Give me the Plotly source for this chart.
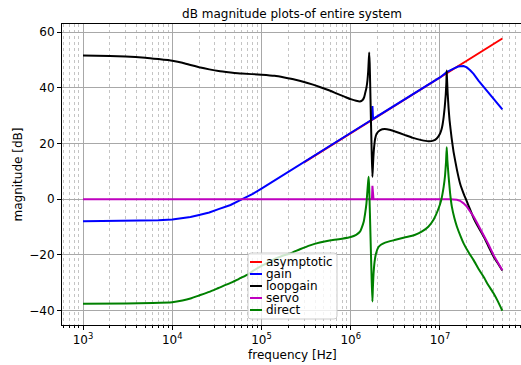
import plotly.graph_objects as go

# ---------------- data ----------------
asym_f = [3e5, 5e7]
asym_db = [13.2, 57.7]

gain_f = [1e3, 3e3, 5e3, 7e3, 1e4, 1.3e4, 1.6e4, 2e4, 2.6e4, 3.3e4, 4.5e4, 6e4, 8e4, 1e5, 1.5e5,
          2e5, 3e5, 1e6, 1.72e6, 1.75e6, 1.78e6,
          1e7, 1.19e7, 1.42e7, 1.6e7, 1.84e7, 2e7, 2.18e7, 2.38e7, 2.7e7, 3.08e7, 3.5e7, 4e7, 4.5e7, 5e7]
gain_db = [-7.9, -7.85, -7.8, -7.6, -7.3, -6.9, -6.4, -5.7, -4.8, -3.6, -2.1, -0.1, 1.9, 3.8, 7.3,
           9.8, 13.3, 23.8, 28.5, 33.4, 28.8,
           43.7, 45.6, 46.9, 47.6, 47.8, 47.3, 46.3, 45.0, 42.6, 40.3, 38.0, 35.9, 34.0, 32.2]

loop_f = [1e3, 2e3, 3e3, 5e3, 7e3, 1e4, 1.3e4, 1.6e4, 2e4, 2.6e4, 3.3e4, 4.5e4, 6e4, 1e5,
          1.4e5, 1.8e5, 2.4e5, 3e5, 3.7e5, 4.5e5, 5.6e5, 7e5, 8.5e5, 1e6, 1.15e6, 1.27e6,
          1.35e6, 1.41e6, 1.45e6, 1.5e6, 1.54e6, 1.57e6, 1.59e6, 1.61e6, 1.63e6, 1.65e6,
          1.68e6, 1.72e6, 1.75e6, 1.78e6, 1.82e6, 1.88e6, 1.95e6, 2.14e6, 2.4e6, 2.8e6,
          3.2e6, 4e6, 5e6, 6.2e6, 7.4e6, 8.4e6, 9.2e6, 1e7, 1.04e7, 1.07e7, 1.1e7, 1.13e7,
          1.16e7, 1.18e7, 1.19e7, 1.2e7, 1.22e7, 1.25e7, 1.28e7, 1.35e7, 1.42e7, 1.55e7,
          1.68e7, 1.84e7, 2e7, 2.18e7, 2.38e7, 2.6e7, 3.1e7, 3.5e7, 4e7, 4.5e7, 5e7]
loop_db = [51.6, 51.4, 51.2, 50.8, 50.3, 49.7, 49.0, 48.2, 47.4, 46.6, 46.0, 45.5, 45.1, 44.7,
           44.3, 43.7, 42.9, 42.1, 41.2, 40.3, 39.2, 37.9, 36.8, 35.9, 35.3, 35.1,
           35.5, 36.5, 38.0, 40.0, 42.7, 46.0, 49.5, 52.7, 49.0, 42.0,
           30.0, 16.0, 8.0, 13.0, 18.0, 21.8, 23.5, 24.8, 25.2, 24.8,
           24.2, 23.1, 22.0, 21.2, 20.8, 21.0, 21.8, 23.5, 25.0, 26.8, 29.5, 33.0,
           37.5, 42.0, 46.2, 43.0, 38.0, 32.5, 28.4, 22.0, 17.0, 10.5,
           5.6, 2.0, -0.8, -3.8, -6.8, -9.2, -13.5, -17.0, -20.7, -23.3, -25.6]

servo_f = [1e3, 1.73e6, 1.75e6, 1.77e6, 1.8e6, 1.3e7, 1.42e7, 1.55e7, 1.68e7, 1.84e7, 2e7,
           2.18e7, 2.38e7, 2.6e7, 2.85e7, 3.1e7, 3.5e7, 4e7, 4.5e7, 5e7]
servo_db = [0.0, 0.0, 4.8, 0.3, 0.0, 0.0, -0.05, -0.2, -0.6, -1.5, -2.7,
            -4.3, -6.2, -8.5, -10.8, -13.0, -16.3, -20.2, -23.0, -25.5]

direct_f = [1e3, 3e3, 6e3, 1e4, 1.3e4, 1.6e4, 2e4, 2.6e4, 3.3e4, 4.5e4, 5.6e4, 6.8e4, 8.2e4,
            1e5, 1.2e5, 1.4e5, 1.7e5, 2.1e5, 2.7e5, 3.5e5, 4.5e5, 6e5, 8e5, 1e6, 1.15e6,
            1.27e6, 1.33e6, 1.4e6, 1.45e6, 1.5e6, 1.54e6, 1.57e6, 1.59e6, 1.61e6, 1.64e6,
            1.68e6, 1.72e6, 1.75e6, 1.77e6, 1.8e6, 1.85e6, 1.92e6, 2.04e6, 2.2e6, 2.43e6,
            3.1e6, 4e6, 5.2e6, 6.3e6, 7.4e6, 8.5e6, 9.5e6, 1.03e7, 1.1e7, 1.14e7, 1.17e7,
            1.19e7, 1.21e7, 1.25e7, 1.3e7, 1.36e7, 1.45e7, 1.55e7, 1.7e7, 1.84e7, 2.1e7,
            2.38e7, 2.7e7, 3.08e7, 3.5e7, 4e7, 4.5e7, 5e7]
direct_db = [-37.6, -37.5, -37.3, -37.0, -36.4, -35.7, -34.6, -33.3, -31.9, -30.1, -28.6, -27.3, -25.6,
             -24.0, -22.6, -21.5, -20.4, -19.5, -18.0, -16.6, -15.6, -14.8, -14.2, -13.6, -12.8,
             -11.7, -10.2, -8.0, -5.1, -1.5, 3.2, 6.5, 8.0, 4.0, -5.0,
             -18.0, -30.0, -36.8, -32.0, -27.0, -22.5, -19.5, -17.3, -16.3, -15.6,
             -14.7, -13.8, -12.9, -11.6, -9.9, -7.3, -3.9, -0.5, 4.4, 8.5, 13.5,
             18.6, 14.0, 8.0, 2.0, -2.8, -6.8, -9.9, -13.3, -15.9, -19.2,
             -21.9, -25.0, -27.9, -31.0, -33.9, -37.0, -40.1]

series_names = ["asymptotic", "gain", "loopgain", "servo", "direct"]
series_colors = ["#ff0000", "#0000ff", "#000000", "#bf00bf", "#008000"]
series_shape = ["linear", "linear", "spline", "linear", "spline"]

xtick_vals = [1e3, 1e4, 1e5, 1e6, 1e7]
xtick_text = ["10<sup>3</sup>", "10<sup>4</sup>", "10<sup>5</sup>", "10<sup>6</sup>", "10<sup>7</sup>"]
ytick_vals = [-40, -20, 0, 20, 40, 60]

# ---------------- figure ----------------
W, H = 521, 365
ML, MR, MT, MB = 62, 0, 24, 40
PW, PH = W - ML - MR, H - MT - MB
FONT = "DejaVu Sans"


def px(x):
    return (x - ML) / PW


def py(y):
    return (H - MB - y) / PH


fig = go.Figure()
data = [(asym_f, asym_db), (gain_f, gain_db), (loop_f, loop_db), (servo_f, servo_db), (direct_f, direct_db)]
for (f, d), name, col, shp in zip(data, series_names, series_colors, series_shape):
    line = dict(color=col, width=2, shape=shp)
    if shp == "spline":
        line["smoothing"] = 0.4
    fig.add_trace(go.Scatter(x=f, y=d, mode="lines", name=name, line=line, showlegend=False))

minor_vals = [m * 10 ** e for e in range(2, 8) for m in range(2, 10)]

fig.update_layout(
    width=W, height=H,
    margin=dict(l=ML, r=MR, t=MT, b=MB),
    paper_bgcolor="white", plot_bgcolor="white",
    font=dict(family=FONT, size=12, color="black"),
    title=dict(text="dB magnitude plots-of entire system", x=292 / W, xanchor="center",
               xref="container", y=1 - 14 / H, yanchor="middle",
               font=dict(family=FONT, size=12, color="black")),
    xaxis=dict(type="log", range=[2.7646, 7.908],
               tickmode="array", tickvals=xtick_vals, ticktext=xtick_text,
               ticks="outside", ticklen=4, tickwidth=1, tickcolor="black",
               showline=True, linecolor="black", linewidth=1, mirror=True,
               showgrid=True, gridcolor="#a8a8a8", gridwidth=1, zeroline=False,
               tickfont=dict(family=FONT, size=12, color="black"),
               minor=dict(tickmode="array", tickvals=minor_vals, ticks="outside", ticklen=2,
                          tickcolor="black", tickwidth=0.8, showgrid=True,
                          gridcolor="#c4c4c4", gridwidth=0.8, griddash="dot")),
    yaxis=dict(range=[-45.2, 62.9], tickmode="array", tickvals=ytick_vals,
               ticks="outside", ticklen=4, tickwidth=1, tickcolor="black",
               showline=True, linecolor="black", linewidth=1, mirror=False,
               showgrid=True, gridcolor="#a8a8a8", gridwidth=1, zeroline=False,
               tickfont=dict(family=FONT, size=12, color="black")),
    showlegend=False,
)

annotations = [
    dict(text="frequency [Hz]", x=px(292), y=py(355), xref="paper", yref="paper",
         xanchor="center", yanchor="middle", showarrow=False, font=dict(size=12)),
    dict(text="magnitude [dB]", x=px(17), y=py(174.5), xref="paper", yref="paper",
         xanchor="center", yanchor="middle", textangle=-90, showarrow=False, font=dict(size=12)),
]

# manual matplotlib-style legend
lx0, ly0, lx1, ly1, r = 248, 253, 337, 319, 3
rx, ry = r / PW, r / PH
X0, X1, Y0, Y1 = px(lx0), px(lx1), py(ly1), py(ly0)
path = (f"M {X0+rx},{Y0} L {X1-rx},{Y0} Q {X1},{Y0} {X1},{Y0+ry} L {X1},{Y1-ry} "
        f"Q {X1},{Y1} {X1-rx},{Y1} L {X0+rx},{Y1} Q {X0},{Y1} {X0},{Y1-ry} "
        f"L {X0},{Y0+ry} Q {X0},{Y0} {X0+rx},{Y0} Z")
shapes = [dict(type="path", path=path, xref="paper", yref="paper",
               fillcolor="rgba(255,255,255,0.8)", line=dict(color="#cccccc", width=1), layer="above")]
row_y = [262, 274, 286, 298, 310]
for name, col, yy in zip(series_names, series_colors, row_y):
    shapes.append(dict(type="line", xref="paper", yref="paper", x0=px(250), x1=px(262),
                       y0=py(yy), y1=py(yy), line=dict(color=col, width=2), layer="above"))
    annotations.append(dict(text=name, x=px(263.5), y=py(yy), xref="paper", yref="paper",
                            xanchor="left", yanchor="middle", showarrow=False,
                            font=dict(size=12, color="black")))

fig.update_layout(shapes=shapes, annotations=annotations)
fig.write_html("out.html")
